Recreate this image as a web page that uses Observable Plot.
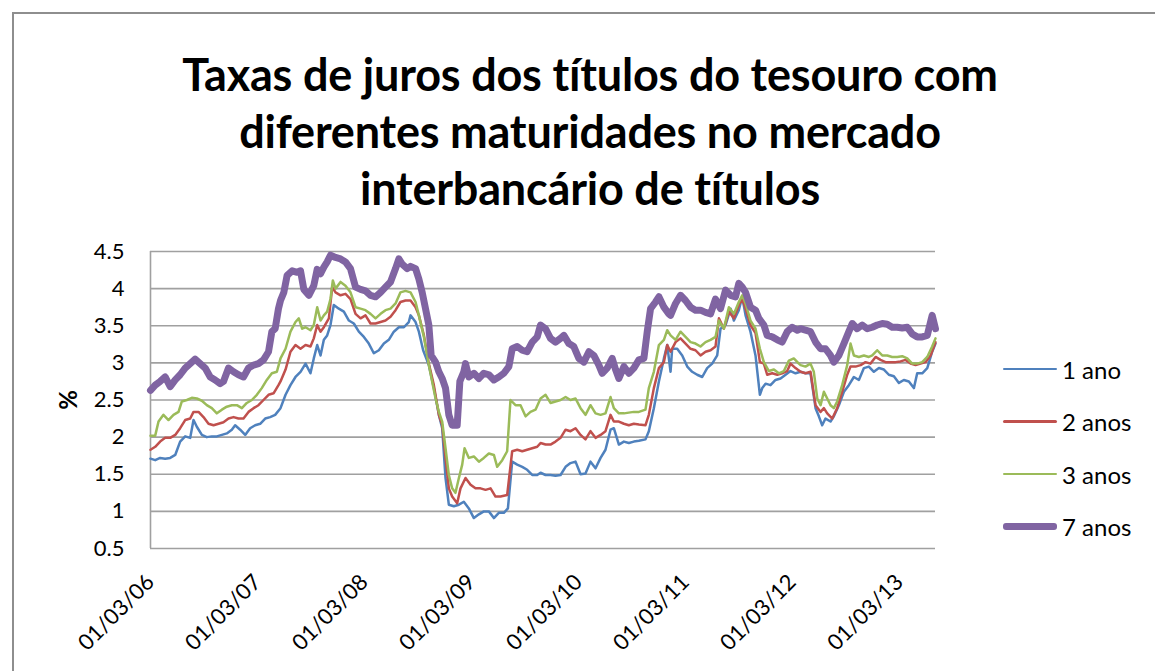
<!DOCTYPE html>
<html>
<head>
<meta charset="utf-8">
<script src="https://cdn.jsdelivr.net/npm/d3@7"></script>
<script src="https://cdn.jsdelivr.net/npm/@observablehq/plot@0.6"></script>
<style>
  html, body { margin: 0; padding: 0; background: #fff; }
  #wrap { position: relative; width: 1155px; height: 671px; overflow: hidden; font-family: Lato, "Open Sans", sans-serif; color: #000; }
  #frame { position: absolute; left: 12px; top: 12px; width: 1200px; height: 700px; border: 2px solid #8e8e8e; box-sizing: border-box; }
  #title { position: absolute; left: 0; width: 1180px; top: 46px; text-align: center; font-weight: 700; font-size: 45px; line-height: 57px; letter-spacing: -0.2px; }
  #chart { position: absolute; left: 0; top: 230px; }
  #ylab { position: absolute; left: 56px; top: 386px; width: 24px; height: 28px; font-weight: 700; font-size: 24px; line-height: 28px; text-align: center; transform: rotate(-90deg); }
  #legend { position: absolute; left: 1003px; top: 343px; }
  .lg { position: absolute; left: 0; height: 52px; display: flex; align-items: center; white-space: nowrap; font-size: 24px; }
  .lg span.sw { display: inline-block; width: 54px; border-radius: 3px; margin-right: 5px; }
</style>
</head>
<body>
<div id="wrap">
  <div id="frame"></div>
  <div id="title">Taxas de juros dos títulos do tesouro com<br>diferentes maturidades no mercado<br>interbancário de títulos</div>
  <div id="ylab">%</div>
  <div id="chart"></div>
  <div id="legend"></div>
</div>
<script>
// Time is given in years elapsed since the first observation (01/03/06).
const seriesNames = ["1 ano", "2 anos", "3 anos", "7 anos"];
const seriesColors = ["#4F81BD", "#C0504D", "#9BBB59", "#8064A2"];
const seriesWidths = [2.5, 2.5, 2.5, 7];
const xTickLabels = ["01/03/06", "01/03/07", "01/03/08", "01/03/09", "01/03/10", "01/03/11", "01/03/12", "01/03/13"];
const yTicks = [0.5, 1, 1.5, 2, 2.5, 3, 3.5, 4, 4.5];

const t1 = [0.000,0.044,0.090,0.137,0.184,0.231,0.277,0.324,0.371,0.402,0.433,0.480,0.526,0.573,0.620,0.667,0.713,0.760,0.791,0.838,0.885,0.931,0.978,1.025,1.072,1.118,1.165,
  1.215,1.262,1.308,1.355,1.402,1.449,1.495,1.526,1.558,1.589,1.620,1.651,1.682,1.713,1.760,1.807,1.854,1.900,1.947,1.994,2.040,2.087,2.134,2.181,2.227,2.274,2.321,2.368,2.414,
  2.430,2.477,2.508,2.548,2.601,2.648,2.695,2.726,2.757,2.788,2.835,2.882,2.928,2.975,3.022,3.069,3.115,3.162,3.209,3.255,3.302,3.340,3.380,3.427,3.474,3.520,3.567,3.614,
  3.645,3.692,3.738,3.785,3.832,3.879,3.925,3.972,4.019,4.065,4.112,4.159,4.206,4.252,4.299,4.330,4.377,4.424,4.470,4.517,4.564,4.626,4.657,4.704,4.751,4.798,4.829,
  4.860,4.875,4.922,4.969,5.016,5.062,5.109,5.156,5.202,5.249,5.296,5.327,5.374,5.421,5.452,5.498,5.530,5.561,5.607,5.654,5.695,5.717,5.748,5.794,5.841,5.888,5.935,5.981,6.028,
  6.075,6.121,6.168,6.215,6.246,6.277,6.308,6.355,6.386,6.433,6.480,6.526,6.573,6.620,6.667,6.713,6.760,6.807,6.854,6.900,6.947,6.994,7.040,7.087,7.134,7.165,7.212,7.259,7.305,7.336];
const v1 = [1.71,1.69,1.72,1.71,1.72,1.76,1.94,2.01,1.99,2.23,2.14,2.03,2.00,2.01,2.01,2.03,2.05,2.10,2.16,2.10,2.03,2.12,2.16,2.18,2.25,2.27,2.30,
  2.39,2.57,2.70,2.81,2.88,2.99,2.86,3.06,3.24,3.10,3.31,3.37,3.51,3.78,3.73,3.69,3.57,3.53,3.42,3.35,3.26,3.13,3.17,3.26,3.31,3.42,3.48,3.48,3.55,
  3.64,3.55,3.42,3.17,2.97,2.66,2.30,2.12,1.45,1.09,1.07,1.09,1.13,1.04,0.91,0.96,1.00,1.00,0.91,0.98,0.98,1.04,1.67,1.63,1.60,1.56,1.49,1.49,
  1.52,1.49,1.49,1.48,1.49,1.60,1.65,1.67,1.50,1.51,1.67,1.58,1.72,1.83,2.10,2.12,1.90,1.94,1.92,1.94,1.95,1.97,2.08,2.39,2.75,3.06,3.24,
  2.88,3.19,3.19,3.10,2.95,2.88,2.84,2.81,2.93,2.99,3.10,3.46,3.51,3.73,3.57,3.71,3.89,3.64,3.42,3.10,2.57,2.66,2.72,2.70,2.77,2.79,2.84,2.89,2.86,
  2.88,2.86,2.86,2.39,2.28,2.16,2.25,2.21,2.28,2.43,2.61,2.70,2.81,2.77,2.93,2.95,2.88,2.93,2.91,2.84,2.82,2.73,2.77,2.75,2.66,2.86,2.86,2.93,3.15,3.26];

const t2 = [0.000,0.044,0.090,0.137,0.184,0.231,0.277,0.324,0.371,0.402,0.449,0.495,0.542,0.589,0.636,0.682,0.729,0.776,0.822,0.869,0.916,0.963,1.009,1.056,1.103,1.150,1.196,
  1.215,1.262,1.308,1.355,1.402,1.449,1.495,1.526,1.558,1.589,1.620,1.667,1.698,1.729,1.776,1.822,1.869,1.916,1.963,2.009,2.056,2.103,2.150,2.196,2.243,2.290,2.336,2.383,
  2.430,2.477,2.508,2.555,2.601,2.648,2.695,2.726,2.757,2.788,2.819,2.866,2.897,2.944,2.991,3.037,3.084,3.131,3.178,3.224,3.271,3.333,3.380,3.427,3.474,3.520,3.567,3.614,
  3.645,3.692,3.738,3.785,3.832,3.879,3.925,3.972,4.019,4.065,4.112,4.159,4.206,4.252,4.299,4.330,4.377,4.424,4.470,4.517,4.564,4.626,4.657,4.704,4.751,4.798,4.829,
  4.860,4.907,4.953,5.000,5.047,5.093,5.140,5.187,5.234,5.280,5.312,5.358,5.405,5.452,5.498,5.530,5.561,5.607,5.654,5.695,5.732,5.763,5.810,5.857,5.903,5.950,5.981,6.028,
  6.075,6.121,6.168,6.215,6.262,6.293,6.324,6.371,6.417,6.464,6.511,6.542,6.589,6.636,6.682,6.729,6.776,6.822,6.869,6.916,6.963,7.009,7.056,7.103,7.150,7.196,7.243,7.290,7.336];
const v2 = [1.83,1.87,1.94,1.99,1.99,2.03,2.12,2.23,2.25,2.34,2.34,2.27,2.18,2.16,2.18,2.20,2.25,2.27,2.25,2.25,2.34,2.39,2.43,2.50,2.57,2.59,2.70,
  2.75,2.91,3.15,3.24,3.19,3.24,3.22,3.33,3.51,3.42,3.48,3.60,4.02,3.95,3.91,3.93,3.86,3.66,3.60,3.64,3.53,3.53,3.55,3.57,3.62,3.71,3.82,3.84,
  3.84,3.75,3.64,3.37,2.99,2.70,2.30,2.16,1.72,1.31,1.20,1.11,1.31,1.45,1.36,1.31,1.31,1.29,1.31,1.20,1.20,1.22,1.81,1.83,1.81,1.83,1.85,1.87,
  1.92,1.90,1.90,1.94,1.99,2.10,2.08,2.12,2.03,1.97,2.08,1.99,2.03,2.08,2.30,2.21,2.21,2.18,2.16,2.18,2.17,2.16,2.30,2.66,2.93,3.01,3.24,
  3.15,3.28,3.33,3.26,3.19,3.17,3.10,3.15,3.17,3.22,3.60,3.46,3.69,3.60,3.78,3.86,3.73,3.51,3.40,3.01,2.99,2.84,2.86,2.84,2.86,2.89,2.99,2.93,
  2.88,2.86,2.88,2.43,2.34,2.39,2.32,2.25,2.39,2.61,2.84,2.95,2.95,2.97,3.01,2.99,3.08,3.04,3.01,3.01,3.01,3.02,3.04,2.99,2.97,2.99,3.01,3.10,3.28];

const t3 = [0.000,0.044,0.075,0.121,0.168,0.215,0.262,0.293,0.340,0.386,0.433,0.480,0.526,0.573,0.620,0.667,0.713,0.760,0.807,0.854,0.900,0.947,0.994,1.040,1.087,1.134,1.181,
  1.215,1.262,1.308,1.355,1.386,1.417,1.449,1.495,1.526,1.558,1.589,1.620,1.651,1.682,1.704,1.729,1.776,1.822,1.869,1.916,1.963,2.009,2.056,2.103,2.150,2.196,2.243,2.290,2.336,2.383,
  2.430,2.477,2.508,2.555,2.601,2.632,2.664,2.695,2.726,2.757,2.788,2.819,2.850,2.882,2.913,2.935,2.975,3.022,3.069,3.115,3.162,3.209,3.240,3.287,3.333,3.364,3.411,3.458,3.505,3.551,3.598,
  3.645,3.692,3.738,3.785,3.832,3.879,3.925,3.972,4.019,4.065,4.112,4.159,4.206,4.252,4.299,4.330,4.377,4.424,4.470,4.517,4.564,4.626,4.657,4.704,4.751,4.798,4.829,
  4.860,4.907,4.953,5.000,5.047,5.093,5.140,5.187,5.234,5.280,5.312,5.358,5.405,5.452,5.498,5.530,5.561,5.607,5.654,5.695,5.732,5.779,5.826,5.872,5.919,5.966,6.012,6.059,
  6.075,6.121,6.168,6.199,6.231,6.262,6.293,6.324,6.355,6.386,6.417,6.464,6.511,6.542,6.573,6.620,6.667,6.713,6.745,6.791,6.838,6.885,6.931,6.978,7.025,7.072,7.118,7.165,7.212,7.259,7.305,7.336];
const v3 = [2.02,2.02,2.21,2.30,2.23,2.30,2.34,2.48,2.50,2.53,2.52,2.49,2.43,2.39,2.32,2.37,2.41,2.43,2.43,2.39,2.46,2.50,2.57,2.66,2.77,2.86,2.88,
  3.06,3.19,3.42,3.55,3.60,3.46,3.48,3.44,3.51,3.75,3.57,3.64,3.69,3.86,4.11,4.00,4.09,4.04,3.95,3.75,3.73,3.71,3.66,3.60,3.66,3.71,3.73,3.80,3.95,3.97,
  3.95,3.82,3.64,3.35,2.97,2.75,2.52,2.34,2.21,1.85,1.49,1.31,1.25,1.45,1.63,1.85,1.72,1.74,1.67,1.72,1.78,1.76,1.60,1.69,1.81,2.50,2.43,2.43,2.28,2.34,2.37,
  2.52,2.57,2.46,2.48,2.50,2.54,2.50,2.52,2.39,2.30,2.43,2.32,2.30,2.32,2.54,2.39,2.32,2.32,2.33,2.34,2.34,2.37,2.66,2.88,3.24,3.31,3.44,
  3.37,3.31,3.42,3.35,3.28,3.26,3.22,3.28,3.31,3.35,3.57,3.46,3.75,3.66,3.82,3.91,3.80,3.57,3.46,3.19,3.01,2.89,2.91,2.86,2.89,3.03,3.06,2.99,
  2.97,2.95,2.99,2.88,2.52,2.43,2.61,2.52,2.43,2.39,2.48,2.70,2.97,3.26,3.10,3.08,3.10,3.08,3.10,3.17,3.10,3.10,3.08,3.08,3.09,3.06,2.99,2.99,3.01,3.08,3.22,3.33];

const t7 = [0.000,0.044,0.090,0.137,0.184,0.231,0.277,0.324,0.371,0.417,0.464,0.511,0.558,0.604,0.651,0.682,0.729,0.776,0.822,0.869,0.916,0.963,1.009,1.056,1.103,1.134,1.165,1.196,
  1.215,1.246,1.277,1.324,1.371,1.402,1.433,1.480,1.526,1.558,1.589,1.620,1.651,1.682,1.729,1.776,1.822,1.869,1.916,1.963,2.009,2.056,2.103,2.150,2.196,2.243,2.290,2.321,2.352,2.399,
  2.430,2.477,2.508,2.539,2.570,2.601,2.623,2.664,2.695,2.726,2.757,2.788,2.819,2.866,2.891,2.928,2.944,2.975,3.022,3.069,3.115,3.162,3.209,3.255,3.302,3.349,3.380,3.427,3.474,3.520,3.567,3.614,
  3.645,3.692,3.738,3.785,3.832,3.863,3.910,3.956,4.003,4.050,4.097,4.143,4.190,4.221,4.268,4.315,4.346,4.377,4.424,4.470,4.517,4.564,4.611,4.642,4.673,4.720,4.751,4.798,4.844,
  4.860,4.907,4.953,5.000,5.047,5.093,5.140,5.187,5.234,5.280,5.327,5.374,5.421,5.467,5.498,5.530,5.561,5.607,5.654,5.685,5.732,5.763,5.810,5.857,5.903,5.950,5.997,6.044,
  6.075,6.121,6.168,6.215,6.262,6.308,6.355,6.386,6.433,6.480,6.526,6.558,6.604,6.651,6.698,6.745,6.791,6.838,6.885,6.931,6.978,7.025,7.072,7.118,7.165,7.212,7.259,7.305,7.336];
const v7 = [2.63,2.70,2.75,2.81,2.68,2.77,2.84,2.93,2.99,3.05,2.99,2.93,2.81,2.77,2.72,2.75,2.93,2.88,2.84,2.81,2.93,2.97,2.99,3.04,3.15,3.42,3.46,3.73,
  3.84,3.95,4.18,4.24,4.22,4.24,3.99,3.91,4.04,4.26,4.20,4.29,4.36,4.45,4.42,4.40,4.36,4.27,4.02,3.99,3.97,3.91,3.89,3.95,4.02,4.09,4.27,4.40,4.33,4.27,
  4.30,4.27,4.13,3.95,3.73,3.51,3.10,3.01,2.88,2.79,2.66,2.30,2.16,2.16,2.75,2.88,2.99,2.81,2.86,2.79,2.86,2.84,2.77,2.81,2.86,2.95,3.19,3.22,3.17,3.15,3.28,3.35,
  3.51,3.46,3.33,3.28,3.33,3.37,3.26,3.22,3.06,3.01,3.15,3.10,2.97,2.86,2.93,3.06,2.91,2.79,2.95,2.86,2.93,3.04,3.06,3.42,3.73,3.82,3.89,3.75,3.66,
  3.64,3.80,3.91,3.84,3.75,3.71,3.71,3.68,3.66,3.86,3.73,3.98,3.91,3.89,4.07,4.02,3.95,3.75,3.71,3.60,3.51,3.37,3.35,3.31,3.28,3.42,3.48,3.44,
  3.46,3.44,3.42,3.28,3.19,3.19,3.10,3.01,3.10,3.26,3.42,3.53,3.46,3.51,3.46,3.48,3.51,3.53,3.52,3.48,3.48,3.47,3.48,3.39,3.35,3.35,3.37,3.64,3.46];

const times = [t1, t2, t3, t7];
const values = [v1, v2, v3, v7];

const origin = Date.UTC(2006, 0, 3);
const toDate = (yrs) => new Date(origin + yrs * 365.25 * 86400000);

const data = [];
seriesNames.forEach((name, k) => {
  times[k].forEach((t, i) => data.push({ date: toDate(t), value: values[k][i], name }));
});

const xStart = toDate(0);
const xEnd = toDate(d3.max(times.flat()));
const xTicks = xTickLabels.map((_, i) => new Date(Date.UTC(2006 + i, 0, 3)));
const labelOf = new Map(xTicks.map((d, i) => [+d, xTickLabels[i]]));

const chart = Plot.plot({
  width: 960,
  height: 420,
  marginLeft: 150,
  marginRight: 25,
  marginTop: 21,
  marginBottom: 102,
  style: { fontFamily: "Lato, 'Open Sans', sans-serif", fontSize: "22px", color: "#000", background: "transparent", overflow: "visible" },
  x: { type: "time", domain: [xStart, xEnd], ticks: xTicks, tickFormat: d => labelOf.get(+d), tickRotate: -45, tickSize: 0, tickPadding: 30, label: null },
  y: { domain: [0.5, 4.5], ticks: yTicks, tickFormat: d => String(d), tickSize: 0, tickPadding: 26, label: null },
  marks: [
    Plot.gridY(yTicks, { stroke: "#a0a0a0", strokeOpacity: 1, strokeWidth: 1.6 }),
    Plot.ruleX([xStart], { stroke: "#a0a0a0", strokeWidth: 1.6 }),
    ...seriesNames.map((name, k) => Plot.line(data.filter(d => d.name === name), {
      x: "date", y: "value", stroke: seriesColors[k], strokeWidth: seriesWidths[k], strokeLinejoin: "round", strokeLinecap: "round"
    }))
  ]
});
document.getElementById("chart").appendChild(chart);

// Legend
const legend = document.getElementById("legend");
seriesNames.forEach((name, k) => {
  const row = document.createElement("div");
  row.className = "lg";
  row.style.top = (k * 52.5) + "px";
  const sw = document.createElement("span");
  sw.className = "sw";
  sw.style.height = seriesWidths[k] + "px";
  sw.style.background = seriesColors[k];
  row.appendChild(sw);
  row.appendChild(document.createTextNode(name));
  legend.appendChild(row);
});
</script>
</body>
</html>
